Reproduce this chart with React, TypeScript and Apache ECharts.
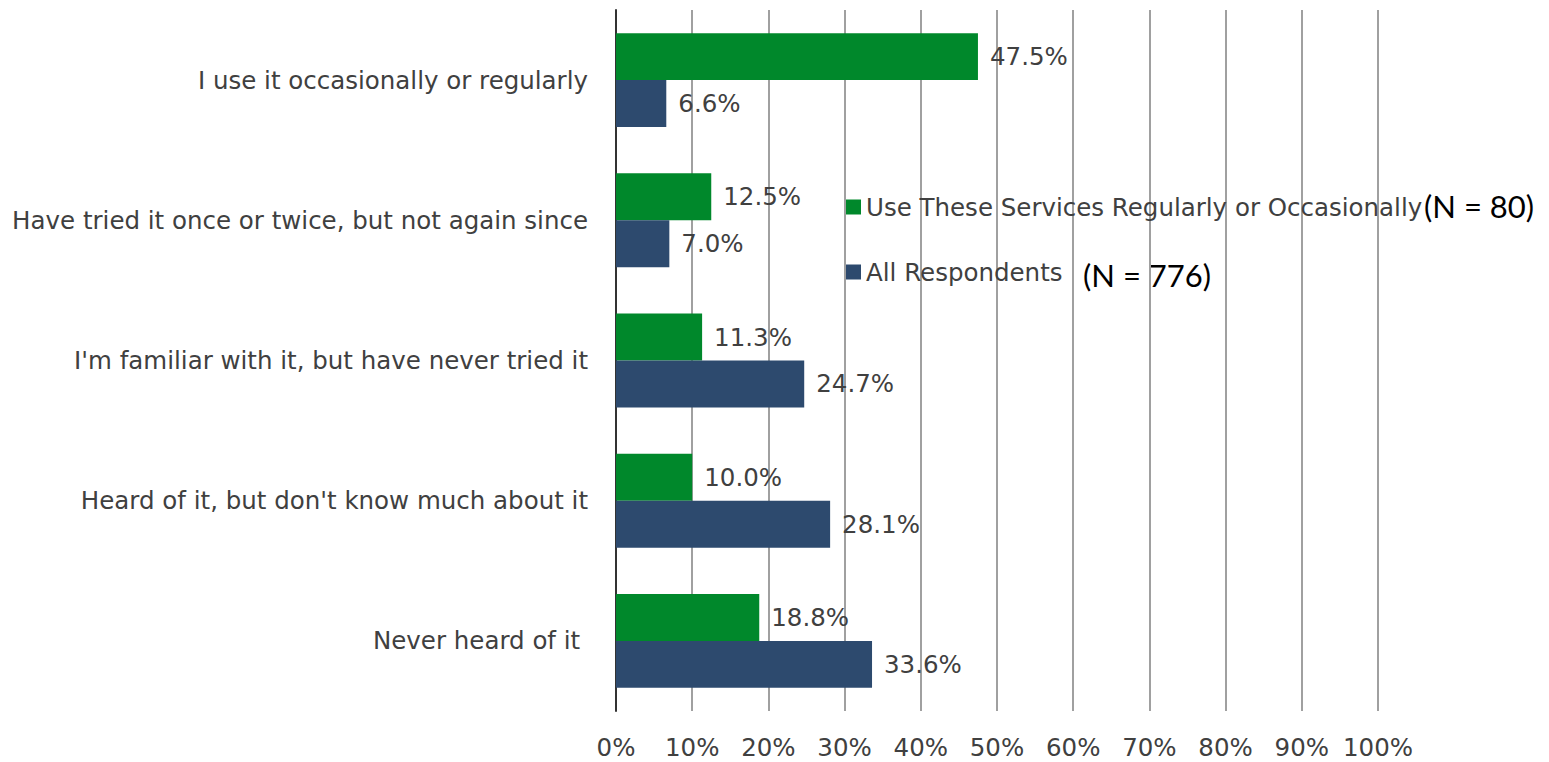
import React, { useEffect, useRef } from "react";
import * as echarts from "echarts";

const categories = [
  "I use it occasionally or regularly",
  "Have tried it once or twice, but not again since",
  "I'm familiar with it, but have never tried it",
  "Heard of it, but don't know much about it",
  "Never heard of it ",
];
const seriesNames = ["Use These Services Regularly or Occasionally", "All Respondents"];
const usersValues = [47.5, 12.5, 11.3, 10.0, 18.8];
const allValues = [6.6, 7.0, 24.7, 28.1, 33.6];
const nLabels = ["(N = 80)", "(N = 776)"];

const FONT = "'DejaVu Sans', sans-serif";
const FS = 24.5;
const TXT = "#404040";

export default function App() {
  const ref = useRef<HTMLDivElement>(null);
  useEffect(() => {
    if (!ref.current) return;
    const chart = echarts.init(ref.current, undefined, { renderer: "svg" });
    const label = {
      show: true,
      position: "right" as const,
      distance: 12,
      color: TXT,
      fontFamily: FONT,
      fontSize: FS,
      formatter: (p: any) => Number(p.value).toFixed(1) + "%",
    };
    chart.setOption({
      animation: false,
      backgroundColor: "#ffffff",
      textStyle: { fontFamily: FONT },
      grid: { left: 616, right: 171, top: 10, bottom: 51, containLabel: false },
      xAxis: {
        type: "value",
        min: 0,
        max: 100,
        interval: 10,
        axisLine: { show: false },
        axisTick: { show: false },
        splitLine: { show: true, lineStyle: { color: "#a0a0a0", width: 2 } },
        axisLabel: {
          color: TXT,
          fontFamily: FONT,
          fontSize: FS,
          lineHeight: 25,
          margin: 24,
          formatter: (v: number) => v + "%",
        },
      },
      yAxis: {
        type: "category",
        data: categories,
        inverse: true,
        axisLine: { show: true, lineStyle: { color: "#333333", width: 2 } },
        axisTick: { show: false },
        axisLabel: { color: TXT, fontFamily: FONT, fontSize: FS, margin: 28 },
      },
      legend: {
        orient: "vertical",
        left: 841,
        top: 187,
        itemWidth: 15,
        itemHeight: 15,
        itemGap: 35,
        icon: "rect",
        textStyle: { color: TXT, fontFamily: FONT, fontSize: FS, lineHeight: 30 },
        data: seriesNames,
      },
      series: [
        {
          name: seriesNames[0],
          type: "bar",
          data: usersValues,
          barGap: "0%",
          barCategoryGap: "33%",
          itemStyle: { color: "#00882B" },
          label,
        },
        {
          name: seriesNames[1],
          type: "bar",
          data: allValues,
          barGap: "0%",
          barCategoryGap: "33%",
          itemStyle: { color: "#2D4A6E" },
          label,
        },
      ],
      graphic: [
        {
          type: "text",
          left: 1424,
          top: 190,
          style: { text: nLabels[0], fill: "#000000", font: "31px Lato, sans-serif" },
        },
        {
          type: "text",
          left: 1083,
          top: 259,
          style: { text: nLabels[1], fill: "#000000", font: "31px Lato, sans-serif" },
        },
      ],
    });
    return () => chart.dispose();
  }, []);
  return <div ref={ref} style={{ position: "fixed", left: 0, top: 0, width: 1549, height: 762 }} />;
}
